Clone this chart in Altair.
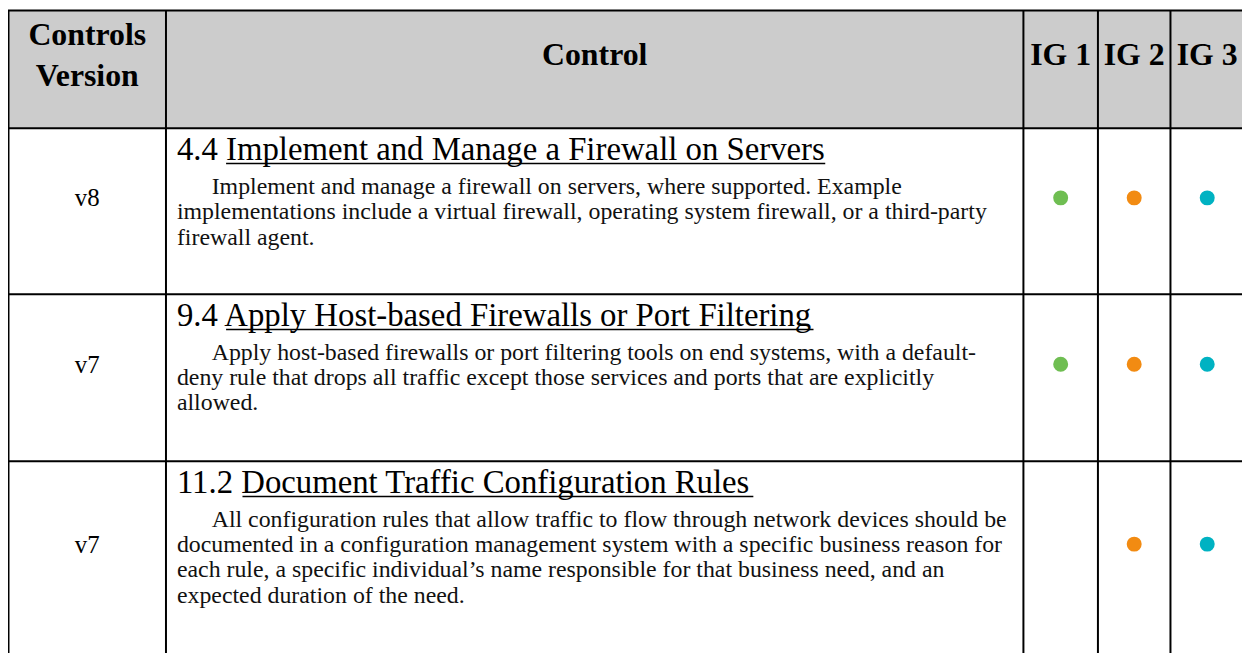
import altair as alt
import pandas as pd

# ---------------- data ----------------
header_version = ["Controls", "Version"]
header_control = ["Control"]
ig_labels = ["IG 1", "IG 2", "IG 3"]
versions = ["v8", "v7", "v7"]
numbers = ["4.4", "9.4", "11.2"]
titles = [
    "Implement and Manage a Firewall on Servers",
    "Apply Host-based Firewalls or Port Filtering",
    "Document Traffic Configuration Rules",
]
descriptions = [
    [
        "Implement and manage a firewall on servers, where supported. Example",
        "implementations include a virtual firewall, operating system firewall, or a third-party",
        "firewall agent.",
    ],
    [
        "Apply host-based firewalls or port filtering tools on end systems, with a default-",
        "deny rule that drops all traffic except those services and ports that are explicitly",
        "allowed.",
    ],
    [
        "All configuration rules that allow traffic to flow through network devices should be",
        "documented in a configuration management system with a specific business reason for",
        "each rule, a specific individual\u2019s name responsible for that business need, and an",
        "expected duration of the need.",
    ],
]
ig1 = [True, True, False]
ig2 = [True, True, True]
ig3 = [True, True, True]
ig_colors = ["#6fbe52", "#f28b12", "#00b2c2"]

# ---------------- layout (chart pixel units) ----------------
CW, CH = 1242, 647
col_edges = [0.5, 159, 1022, 1097, 1170, 1244]
header_bottom = 119
row_edges = [119, 286, 454, 648]
FONT = "Liberation Serif"
HDR_SIZE, VER_SIZE, TITLE_SIZE, BODY_SIZE = 32, 25, 33, 24
LINE_H = 25.5
TEXT_LEFT = 170
INDENT = 35

# Times / Liberation Serif advance widths (per 1000 em)
TIMES = {" ": 250, "-": 333, ".": 250, ",": 250, "\u2019": 333, "'": 180}
for c in "0123456789":
    TIMES[c] = 500
TIMES.update(dict(zip("ABCDEFGHIJKLMNOPQRSTUVWXYZ",
    [722, 667, 667, 722, 611, 556, 722, 722, 333, 389, 722, 611, 889, 722, 722, 556, 722, 667, 556, 611, 722, 722, 944, 722, 722, 611])))
TIMES.update(dict(zip("abcdefghijklmnopqrstuvwxyz",
    [444, 500, 444, 500, 444, 333, 500, 500, 278, 278, 500, 278, 778, 500, 500, 500, 500, 333, 389, 278, 500, 500, 722, 500, 500, 444])))


def tw(s, size):
    return sum(TIMES.get(c, 500) for c in s) / 1000.0 * size


xs = alt.Scale(domain=[0, CW], range=[0, CW], nice=False, zero=False)
ys = alt.Scale(domain=[CH, 0], nice=False, zero=False)


def X(f):
    return alt.X(f, type="quantitative", scale=xs, axis=None)


def Y(f):
    return alt.Y(f, type="quantitative", scale=ys, axis=None)


# header background
hdr_bg = pd.DataFrame({"x": [0], "x2": [CW], "y": [0], "y2": [header_bottom]})
bg = alt.Chart(hdr_bg).mark_rect(color="#cccccc").encode(
    x=X("x"), x2="x2", y=Y("y"), y2="y2")

# grid lines
vlines = pd.DataFrame({"x": col_edges, "y": [0] * len(col_edges), "y2": [CH] * len(col_edges)})
hl_y = [0.5, header_bottom, row_edges[1], row_edges[2]]
hlines = pd.DataFrame({"y": hl_y, "x": [0] * len(hl_y), "x2": [CW] * len(hl_y)})
vr = alt.Chart(vlines).mark_rule(color="black", strokeWidth=2).encode(
    x=X("x"), y=Y("y"), y2="y2")
hr = alt.Chart(hlines).mark_rule(color="black", strokeWidth=2).encode(
    y=Y("y"), x=X("x"), x2="x2")

# header texts
col_centers = [(col_edges[i] + col_edges[i + 1]) / 2 for i in range(5)]
hdr_rows = []
hdr_rows.append({"x": col_centers[0], "y": 35, "t": header_version[0]})
hdr_rows.append({"x": col_centers[0], "y": 76, "t": header_version[1]})
hdr_rows.append({"x": col_centers[1], "y": 55, "t": header_control[0]})
for i, lab in enumerate(ig_labels):
    hdr_rows.append({"x": col_centers[2 + i], "y": 55, "t": lab})
hdr = alt.Chart(pd.DataFrame(hdr_rows)).mark_text(
    font=FONT, fontSize=HDR_SIZE, fontWeight="bold", align="center",
    baseline="alphabetic", color="black").encode(x=X("x"), y=Y("y"), text="t:N")

# versions
row_mid = [(row_edges[i] + row_edges[i + 1]) / 2 - 13.5 for i in range(3)]
ver_df = pd.DataFrame({"x": [col_centers[0]] * 3, "y": [m + 8.5 for m in row_mid], "t": versions})
ver = alt.Chart(ver_df).mark_text(
    font=FONT, fontSize=VER_SIZE, align="center", baseline="alphabetic",
    color="black").encode(x=X("x"), y=Y("y"), text="t:N")

# titles + underline
t_rows, u_rows, b_rows = [], [], []
for i in range(3):
    top = row_edges[i]
    full = numbers[i] + " " + titles[i]
    base = top + 32
    t_rows.append({"x": TEXT_LEFT, "y": base, "t": full})
    u0 = TEXT_LEFT + tw(numbers[i] + " ", TITLE_SIZE)
    u1 = TEXT_LEFT + tw(full, TITLE_SIZE)
    u_rows.append({"x": u0, "x2": u1, "y": base + 3.5})
    for j, line in enumerate(descriptions[i]):
        b_rows.append({"x": TEXT_LEFT + (INDENT if j == 0 else 0),
                       "y": top + 66 + j * LINE_H, "t": line})

tit = alt.Chart(pd.DataFrame(t_rows)).mark_text(
    font=FONT, fontSize=TITLE_SIZE, align="left", baseline="alphabetic",
    color="black").encode(x=X("x"), y=Y("y"), text="t:N")
und = alt.Chart(pd.DataFrame(u_rows)).mark_rule(color="black", strokeWidth=1.5).encode(
    x=X("x"), x2="x2", y=Y("y"))
body = alt.Chart(pd.DataFrame(b_rows)).mark_text(
    font=FONT, fontSize=BODY_SIZE, align="left", baseline="alphabetic",
    color="#111111").encode(x=X("x"), y=Y("y"), text="t:N")

# IG dots
d_rows = []
for i in range(3):
    for k, flags in enumerate([ig1, ig2, ig3]):
        if flags[i]:
            d_rows.append({"x": col_centers[2 + k], "y": row_mid[i], "ig": ig_labels[k]})
dots = alt.Chart(pd.DataFrame(d_rows)).mark_circle(size=227, opacity=1).encode(
    x=X("x"), y=Y("y"),
    color=alt.Color("ig:N", scale=alt.Scale(domain=ig_labels, range=ig_colors), legend=None))

chart = alt.layer(bg, vr, hr, hdr, ver, tit, und, body, dots).properties(
    width=CW, height=CH, padding=0, autosize="none"
).configure_view(stroke=None)

chart.save("out.html", embed_options={"renderer": "svg", "actions": False})
